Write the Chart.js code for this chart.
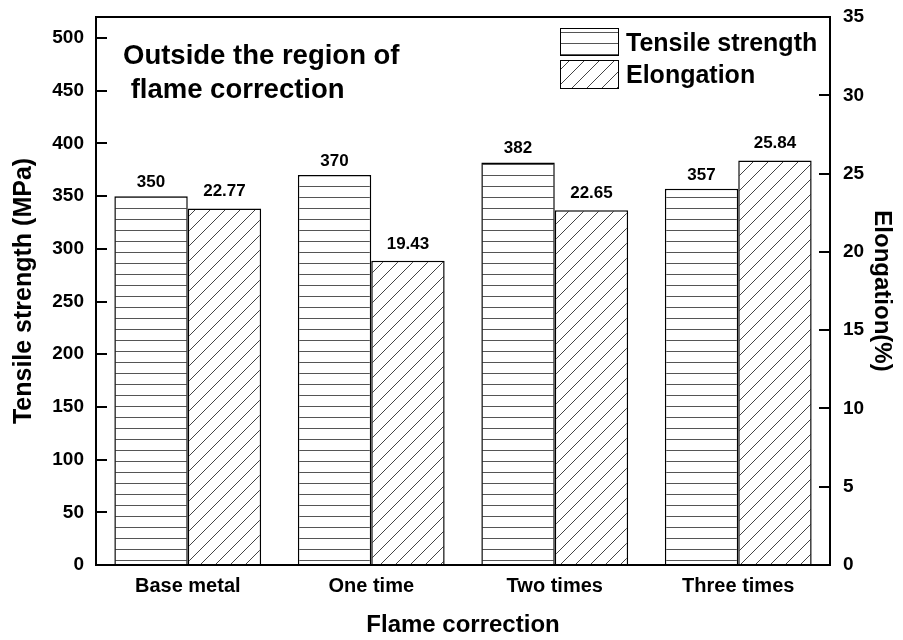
<!DOCTYPE html>
<html>
<head>
<meta charset="utf-8">
<script src="https://cdn.jsdelivr.net/npm/chart.js@4.4.0/dist/chart.umd.min.js"></script>
<style>
html, body { margin: 0; padding: 0; background: #fff; }
</style>
</head>
<body>
<canvas id="chart" width="903" height="640"></canvas>
<script>
var categories = ['Base metal', 'One time', 'Two times', 'Three times'];
var tensileStrength = [350, 370, 382, 357];
var elongation = [22.77, 19.43, 22.65, 25.84];
var tensileLabels = ['350', '370', '382', '357'];
var elongationLabels = ['22.77', '19.43', '22.65', '25.84'];
var noteLines = ['Outside the region of', ' flame correction'];

var FONT = '"Liberation Sans", Arial, sans-serif';
var canvas = document.getElementById('chart');
var ctx = canvas.getContext('2d');

// hatch fills for the two series
function hLines() {
    var c = document.createElement('canvas');
    c.width = 8; c.height = 11;
    var g = c.getContext('2d');
    g.fillStyle = '#fff';
    g.fillRect(0, 0, 8, 11);
    g.fillStyle = '#555';
    g.fillRect(0, 10, 8, 1);
    return ctx.createPattern(c, 'repeat');
}

function diagLines() {
    var c = document.createElement('canvas');
    c.width = 15; c.height = 15;
    var g = c.getContext('2d');
    g.fillStyle = '#fff';
    g.fillRect(0, 0, 15, 15);
    g.strokeStyle = '#444';
    g.lineWidth = 1;
    g.beginPath();
    g.moveTo(-2, 17); g.lineTo(17, -2);
    g.moveTo(-1, 1); g.lineTo(1, -1);
    g.moveTo(14, 16); g.lineTo(16, 14);
    g.stroke();
    return ctx.createPattern(c, 'repeat');
}

var tensileFill = hLines();
var elongFill = diagLines();

// keep the plot box where the reference has it
function noPad(s) {
    s.paddingTop = 0; s.paddingBottom = 0;
    s.paddingLeft = 0; s.paddingRight = 0;
}

// frame, inward ticks, value labels, note and legend
var decorPlugin = {
    id: 'decor',
    afterDatasetsDraw: function (chart) {
        var c = chart.ctx, a = chart.chartArea;
        c.save();
        c.strokeStyle = '#000';
        c.lineWidth = 2;
        c.strokeRect(a.left, a.top, a.right - a.left, a.bottom - a.top);

        c.beginPath();
        var yl = chart.scales.y;
        yl.ticks.forEach(function (t, i) {
            var py = Math.round(yl.getPixelForTick(i));
            c.moveTo(a.left, py); c.lineTo(a.left + 11, py);
        });
        var yr = chart.scales.y1;
        yr.ticks.forEach(function (t, i) {
            var py = Math.round(yr.getPixelForTick(i));
            c.moveTo(a.right, py); c.lineTo(a.right - 11, py);
        });
        c.stroke();

        c.fillStyle = '#000';
        c.textAlign = 'center';
        c.textBaseline = 'alphabetic';
        c.font = 'bold 17px ' + FONT;
        chart.getDatasetMeta(0).data.forEach(function (bar, i) {
            c.fillText(tensileLabels[i], bar.x, bar.y - 9);
        });
        chart.getDatasetMeta(1).data.forEach(function (bar, i) {
            c.fillText(elongationLabels[i], bar.x, bar.y - 12);
        });

        c.textAlign = 'left';
        c.font = 'bold 27.5px ' + FONT;
        c.fillText(noteLines[0], 123, 64);
        c.fillText(noteLines[1], 123, 98);

        // legend
        c.lineWidth = 1;
        c.fillStyle = tensileFill;
        c.fillRect(560, 28, 58, 27);
        c.strokeRect(560.5, 28.5, 58, 27);
        c.fillStyle = elongFill;
        c.fillRect(560, 60, 58, 28);
        c.strokeRect(560.5, 60.5, 58, 28);
        c.fillStyle = '#000';
        c.font = 'bold 25px ' + FONT;
        c.fillText(chart.data.datasets[0].label, 626, 51);
        c.fillText(chart.data.datasets[1].label, 626, 83);
        c.restore();
    }
};

new Chart(ctx, {
    type: 'bar',
    data: {
        labels: categories,
        datasets: [{
            label: 'Tensile strength',
            data: tensileStrength,
            yAxisID: 'y',
            backgroundColor: tensileFill,
            borderColor: '#000',
            borderWidth: 1.5
        }, {
            label: 'Elongation',
            data: elongation,
            yAxisID: 'y1',
            backgroundColor: elongFill,
            borderColor: '#000',
            borderWidth: 1.5
        }]
    },
    plugins: [decorPlugin],
    options: {
        responsive: false,
        animation: false,
        layout: { padding: { top: 17, left: 0, right: 0, bottom: 0 } },
        datasets: { bar: { categoryPercentage: 0.8, barPercentage: 1.0 } },
        plugins: { legend: { display: false }, tooltip: { enabled: false } },
        scales: {
            x: {
                grid: { display: false, drawTicks: false },
                border: { display: false },
                ticks: { color: '#000', padding: 9, font: { family: FONT, size: 20, weight: 'bold' } },
                title: {
                    display: true, text: 'Flame correction', color: '#000',
                    padding: { top: 0, bottom: 0 },
                    font: { family: FONT, size: 24, weight: 'bold' }
                },
                afterFit: function (s) { s.height = 75; noPad(s); }
            },
            y: {
                position: 'left',
                min: 0, max: 520,
                grid: { display: false, drawTicks: false },
                border: { display: false },
                ticks: {
                    stepSize: 50, includeBounds: false, color: '#000', padding: 12,
                    font: { family: FONT, size: 19, weight: 'bold' }
                },
                title: {
                    display: true, text: 'Tensile strength (MPa)', color: '#000',
                    padding: { top: 9, bottom: 0 },
                    font: { family: FONT, size: 25, weight: 'bold' }
                },
                afterFit: function (s) { s.width = 96; noPad(s); }
            },
            y1: {
                position: 'right',
                min: 0, max: 35,
                grid: { display: false, drawTicks: false },
                border: { display: false },
                ticks: {
                    stepSize: 5, color: '#000', padding: 13,
                    font: { family: FONT, size: 19, weight: 'bold' }
                },
                title: {
                    display: true, text: 'Elongation(%)', color: '#000',
                    padding: { top: 7, bottom: 0 },
                    font: { family: FONT, size: 24, weight: 'bold' }
                },
                afterFit: function (s) { s.width = 73; noPad(s); }
            }
        }
    }
});
</script>
</body>
</html>
